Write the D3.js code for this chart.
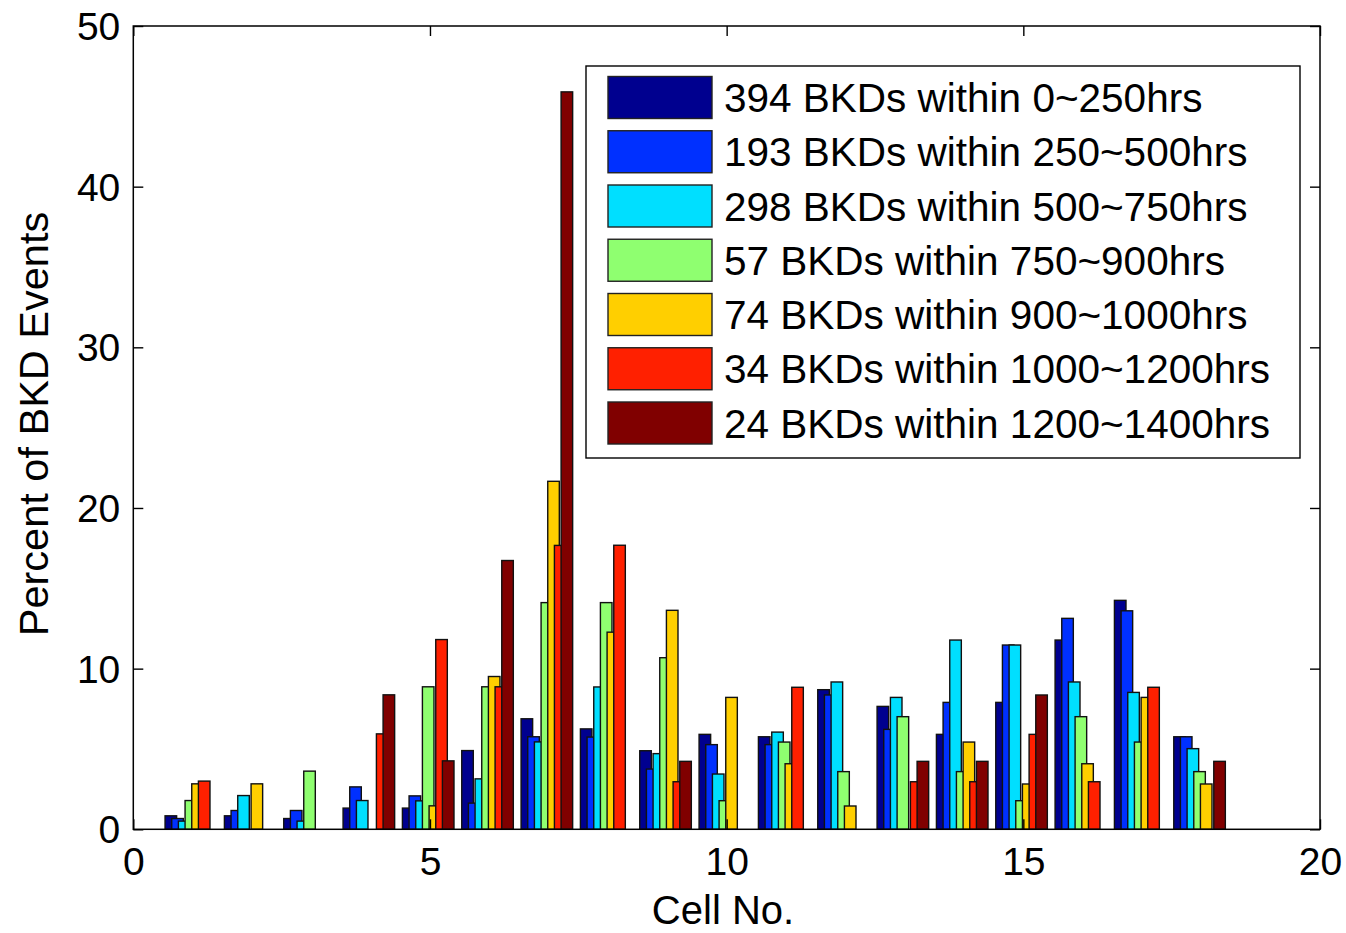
<!DOCTYPE html>
<html>
<head>
<meta charset="utf-8">
<script src="https://cdn.jsdelivr.net/npm/d3@7"></script>
<style>
  html, body { margin: 0; padding: 0; background: #fff; }
  svg { display: block; }
  text { font-family: "Liberation Sans", Arial, Helvetica, sans-serif; fill: #000; }
</style>
</head>
<body>
<svg id="chart" width="1346" height="933"></svg>
<script>
// ---- data ----
const cells = [1, 2, 3, 4, 5, 6, 7, 8, 9, 10, 11, 12, 13, 14, 15, 16, 17, 18];
const seriesNames = [
  "394 BKDs within 0~250hrs",
  "193 BKDs within 250~500hrs",
  "298 BKDs within 500~750hrs",
  "57 BKDs within 750~900hrs",
  "74 BKDs within 900~1000hrs",
  "34 BKDs within 1000~1200hrs",
  "24 BKDs within 1200~1400hrs"
];
const seriesColors = ["#00008F", "#0030FF", "#00DFFF", "#8FFF70", "#FFCF00", "#FF2000", "#800000"];
const s0 = [0.84, 0.84, 0.67, 1.32, 1.32, 4.90, 6.88, 6.25, 4.89, 5.91, 5.76, 8.69, 7.65, 5.91, 7.90, 11.78, 14.25, 5.76];
const s1 = [0.67, 1.17, 1.17, 2.64, 2.08, 1.63, 5.76, 5.74, 3.75, 5.27, 5.27, 8.36, 6.22, 7.90, 11.47, 13.13, 13.60, 5.76];
const s2 = [0.51, 2.10, 0.51, 1.79, 1.77, 3.14, 5.44, 8.86, 4.71, 3.44, 6.05, 9.17, 8.21, 11.78, 11.47, 9.17, 8.52, 5.02];
const s3 = [1.79, 0, 3.62, 0, 8.87, 8.87, 14.11, 14.11, 10.68, 1.78, 5.43, 3.59, 7.01, 3.59, 1.78, 7.01, 5.43, 3.59];
const s4 = [2.83, 2.83, 0, 0, 1.46, 9.51, 21.66, 12.27, 13.63, 8.21, 4.08, 1.45, 0, 5.43, 2.82, 4.08, 8.21, 2.82];
const s5 = [3.00, 0, 0, 5.94, 11.81, 8.87, 17.67, 17.68, 2.96, 0, 8.84, 0, 2.96, 2.96, 5.91, 2.96, 8.84, 0];
const s6 = [0, 0, 0, 8.37, 4.26, 16.73, 45.90, 0, 4.23, 0, 0, 0, 4.23, 4.23, 8.36, 0, 0, 4.23];
const seriesValues = [s0, s1, s2, s3, s4, s5, s6];
const xTicks = [0, 5, 10, 15, 20];
const yTicks = [0, 10, 20, 30, 40, 50];
const xLabel = "Cell No.";
const yLabel = "Percent of BKD Events";

// ---- layout ----
const svg = d3.select("#chart");
const L = 133.3, R = 1320, T = 26, B = 829.3;
const x = d3.scaleLinear().domain([0, 20]).range([L, R]);
const y = d3.scaleLinear().domain([0, 50]).range([B, T]);

const nS = seriesValues.length;
const slot = 0.1124;     // spacing between bars in a group (data units)
const barW = 0.195;      // bar width (data units), wider than slot -> overlap
const shift = -0.03;

// bars: series drawn in order, later overlap earlier
seriesValues.forEach((vals, si) => {
  svg.append("g")
    .selectAll("rect")
    .data(cells.map((c, i) => ({ c, v: vals[i] })).filter(d => d.v > 0))
    .join("rect")
    .attr("x", d => x(d.c + (si - (nS - 1) / 2) * slot + shift - barW / 2))
    .attr("width", x(barW) - x(0))
    .attr("y", d => y(d.v))
    .attr("height", d => y(0) - y(d.v))
    .attr("fill", seriesColors[si])
    .attr("stroke", "#111")
    .attr("stroke-width", 1.4);
});

// axes (ticks inside, mirrored)
const fs = 39;
const axB = svg.append("g").attr("transform", `translate(0,${B})`)
  .call(d3.axisBottom(x).tickValues(xTicks).tickSize(-10).tickPadding(18).tickFormat(d3.format("d")));
const axT = svg.append("g").attr("transform", `translate(0,${T})`)
  .call(d3.axisTop(x).tickValues(xTicks).tickSize(-10).tickFormat(""));
const axL = svg.append("g").attr("transform", `translate(${L},0)`)
  .call(d3.axisLeft(y).tickValues(yTicks).tickSize(-10).tickPadding(13).tickFormat(d3.format("d")));
const axR = svg.append("g").attr("transform", `translate(${R},0)`)
  .call(d3.axisRight(y).tickValues(yTicks).tickSize(-10).tickFormat(""));
[axB, axT, axL, axR].forEach(a => {
  a.select(".domain").remove();
  a.selectAll(".tick line").attr("stroke", "#000").attr("stroke-width", 1.4);
  a.selectAll("text").attr("font-size", fs).attr("fill", "#000")
    .style("font-family", '"Liberation Sans", Arial, sans-serif');
});
axB.selectAll(".tick text").attr("dy", "0.71em");
axL.selectAll(".tick text").attr("dy", "0.35em");

// frame
svg.append("rect").attr("x", L).attr("y", T).attr("width", R - L).attr("height", B - T)
  .attr("fill", "none").attr("stroke", "#000").attr("stroke-width", 1.5);

// axis labels
svg.append("text").attr("x", 723).attr("y", 924).attr("text-anchor", "middle")
  .attr("font-size", 40).text(xLabel);
svg.append("text").attr("transform", `translate(48,424) rotate(-90)`)
  .attr("text-anchor", "middle").attr("font-size", 41.5).text(yLabel);

// legend
const lg = svg.append("g");
lg.append("rect").attr("x", 586).attr("y", 66).attr("width", 714).attr("height", 392)
  .attr("fill", "#fff").attr("stroke", "#000").attr("stroke-width", 1.4);
const rowY = d3.scaleLinear().domain([0, nS - 1]).range([97.5, 423]);
seriesNames.forEach((name, i) => {
  const cy = rowY(i);
  lg.append("rect").attr("x", 608).attr("y", cy - 21).attr("width", 104).attr("height", 42)
    .attr("fill", seriesColors[i]).attr("stroke", "#222").attr("stroke-width", 1.4);
  lg.append("text").attr("x", 724).attr("y", cy).attr("dy", "0.36em")
    .attr("font-size", 40.5).text(name);
});
</script>
</body>
</html>
